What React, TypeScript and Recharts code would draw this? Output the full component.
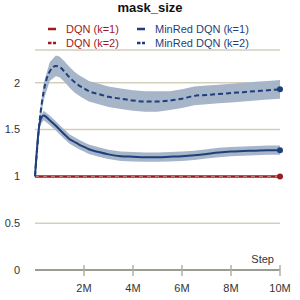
import {
  ComposedChart,
  Area,
  Line,
  XAxis,
  YAxis,
  CartesianGrid,
  Legend,
} from "recharts";

// steps in millions
const steps = [0, 0.2, 0.35, 0.6, 0.85, 1.0, 1.2, 1.4, 1.6, 1.8, 2.0, 2.2, 2.6, 3.0, 3.5, 4, 4.5, 5, 5.5, 6, 6.5, 7, 7.5, 8, 8.5, 9, 9.5, 10];

const dqnK1 = steps.map(() => 1);
const dqnK2 = steps.map(() => 1);

const minredK1 = [1.0, 1.58, 1.65, 1.6, 1.54, 1.5, 1.45, 1.4, 1.37, 1.34, 1.315, 1.29, 1.26, 1.235, 1.215, 1.21, 1.205, 1.205, 1.21, 1.215, 1.225, 1.24, 1.255, 1.265, 1.27, 1.275, 1.28, 1.28];
const minredK1Err = [0, 0.04, 0.05, 0.05, 0.05, 0.05, 0.05, 0.05, 0.05, 0.05, 0.05, 0.05, 0.05, 0.05, 0.05, 0.05, 0.05, 0.05, 0.05, 0.05, 0.05, 0.05, 0.05, 0.05, 0.05, 0.05, 0.05, 0.05];

const minredK2 = [1.0, 1.62, 1.9, 2.12, 2.18, 2.17, 2.12, 2.06, 2.01, 1.97, 1.94, 1.91, 1.88, 1.85, 1.83, 1.81, 1.8, 1.8, 1.81, 1.83, 1.86, 1.87, 1.88, 1.89, 1.9, 1.91, 1.92, 1.93];
const minredK2Err = [0, 0.07, 0.09, 0.1, 0.11, 0.11, 0.11, 0.11, 0.11, 0.11, 0.11, 0.11, 0.11, 0.11, 0.11, 0.11, 0.11, 0.11, 0.1, 0.1, 0.1, 0.1, 0.1, 0.1, 0.1, 0.1, 0.1, 0.1];

const xTicks = [2, 4, 6, 8, 10];
const yTicks = [0, 0.5, 1, 1.5, 2];

const RED = "#9b1c1c";
const BLUE = "#1f3f7c";
const BAND = "#a7b5c9";
const FONT = "'Liberation Sans', Arial, sans-serif";

const data = steps.map((s, i) => ({
  step: s * 1e6,
  dqnK1: dqnK1[i],
  dqnK2: dqnK2[i],
  minredK1: minredK1[i],
  minredK2: minredK2[i],
  k1Band: [minredK1[i] - minredK1Err[i], minredK1[i] + minredK1Err[i]],
  k2Band: [minredK2[i] - minredK2Err[i], minredK2[i] + minredK2Err[i]],
}));

const last = data.length - 1;

const endDot = (color: string) => (props: any) => {
  if (props.index !== last) return <g key={props.index} />;
  return <circle key={props.index} cx={props.cx} cy={props.cy} r={3} fill={color} stroke="none" />;
};

const XTick = (props: any) => {
  const { x, y, payload } = props;
  const axisY = y - 14;
  return (
    <g>
      <line x1={x} x2={x} y1={axisY - 5} y2={axisY + 6} stroke="#b0afa6" strokeWidth={1.5} />
      <text x={x} y={y} dy="0.71em" textAnchor="middle" fontSize={11} fill="#333" fontFamily={FONT}>
        {payload.value / 1e6}M
      </text>
    </g>
  );
};

const legendItems = [
  { label: "DQN (k=1)", color: RED, dashed: false, left: 47, top: 22 },
  { label: "DQN (k=2)", color: RED, dashed: true, left: 47, top: 36 },
  { label: "MinRed DQN (k=1)", color: BLUE, dashed: false, left: 136, top: 22 },
  { label: "MinRed DQN (k=2)", color: BLUE, dashed: true, left: 136, top: 36 },
];

const renderLegend = () => (
  <div style={{ position: "relative", width: 300, height: 50, fontFamily: FONT }}>
    <div
      style={{
        position: "absolute",
        top: 0,
        left: 0,
        width: 300,
        textAlign: "center",
        fontWeight: "bold",
        fontSize: 13,
        lineHeight: "15px",
        color: "#111",
      }}
    >
      mask_size
    </div>
    {legendItems.map((it) => (
      <div key={it.label} style={{ position: "absolute", left: it.left, top: it.top, height: 14, display: "flex", alignItems: "center" }}>
        <svg width={10} height={14}>
          <line
            x1={1}
            x2={9}
            y1={7}
            y2={7}
            stroke={it.color}
            strokeWidth={2.5}
            strokeDasharray={it.dashed ? "3.5 1.5" : undefined}
          />
        </svg>
        <span style={{ marginLeft: 9, fontSize: 11, color: it.color, lineHeight: "14px" }}>{it.label}</span>
      </div>
    ))}
  </div>
);

export default function App() {
  return (
    <div style={{ position: "absolute", left: 0, top: 0, width: 300, height: 300, background: "#fff" }}>
      <ComposedChart width={300} height={300} data={data} margin={{ top: 0, right: 20, bottom: 0, left: 0 }}>
        <Legend verticalAlign="top" height={50} content={renderLegend} wrapperStyle={{ top: 0, left: 0, width: 300 }} />
        <CartesianGrid vertical={false} stroke="#d3cfbd" strokeWidth={1.5} />
        <XAxis
          dataKey="step"
          type="number"
          domain={[0, 1e7]}
          ticks={xTicks.map((t) => t * 1e6)}
          interval={0}
          height={30}
          tickSize={6}
          tickMargin={8}
          tickLine={false}
          tick={<XTick />}
          axisLine={{ stroke: "#9d9c94", strokeWidth: 2 }}
          label={{
            content: (p: any) => (
              <text
                x={p.viewBox.x + p.viewBox.width - 6}
                y={p.viewBox.y - 7}
                textAnchor="end"
                fontSize={11}
                fill="#333"
                fontFamily={FONT}
              >
                Step
              </text>
            ),
          }}
        />
        <YAxis
          type="number"
          domain={[0, 2.35]}
          ticks={yTicks}
          interval={0}
          width={35}
          axisLine={false}
          tickLine={false}
          tickSize={0}
          tickMargin={15}
          tick={{ fontSize: 11, fill: "#333", fontFamily: FONT }}
        />
        <Area dataKey="k2Band" stroke="none" fill={BAND} fillOpacity={1} isAnimationActive={false} />
        <Area dataKey="k1Band" stroke="none" fill={BAND} fillOpacity={1} isAnimationActive={false} />
        <Line dataKey="dqnK1" stroke={RED} strokeWidth={2.5} dot={endDot(RED)} activeDot={false} isAnimationActive={false} />
        <Line dataKey="dqnK2" stroke="#c98a8a" strokeWidth={1} strokeDasharray="4 4" dot={false} activeDot={false} isAnimationActive={false} />
        <Line type="monotone" dataKey="minredK1" stroke={BLUE} strokeWidth={2} dot={endDot(BLUE)} activeDot={false} isAnimationActive={false} />
        <Line type="monotone" dataKey="minredK2" stroke={BLUE} strokeWidth={2} strokeDasharray="5 3" dot={endDot(BLUE)} activeDot={false} isAnimationActive={false} />
      </ComposedChart>
    </div>
  );
}
